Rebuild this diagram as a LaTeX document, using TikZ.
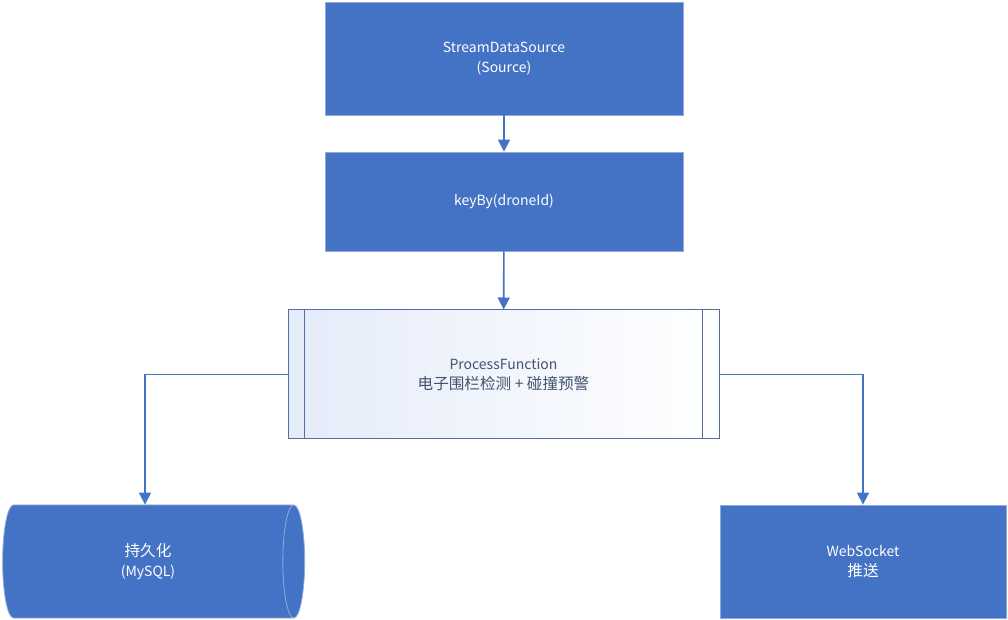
\documentclass[tikz,border=0pt]{standalone}
\usepackage{fontspec}
\setmainfont{Noto Sans CJK SC}
\usetikzlibrary{arrows.meta,shapes.geometric}
\definecolor{officeblue}{RGB}{68,114,196}
\definecolor{edgeblue}{RGB}{143,170,220}
\definecolor{procedge}{RGB}{84,110,160}
\definecolor{proctext}{RGB}{68,84,106}
\definecolor{procfill}{RGB}{228,235,249}
\newcommand\zh[1]{{\fontsize{7.8}{10}\selectfont #1}}
\tikzset{
	block/.style={draw=edgeblue,line width=0.4pt,fill=officeblue,text=white,align=center,inner sep=0pt,font=\fontsize{7}{10}\selectfont},
	flow/.style={draw=officeblue,line width=0.8pt,-{Triangle[width=6pt,length=6pt]}},
}
\begin{document}
\begin{tikzpicture}[x=0.5pt,y=-0.5pt]
			\useasboundingbox (0,0) rectangle (1008,620);
			\node[block,minimum width=179pt,minimum height=56.5pt] (src) at (504,58.5) {StreamDataSource\\(Source)};
			\node[block,minimum width=179pt,minimum height=49.5pt] (key) at (504,201.5) {keyBy(droneId)};
			\node[draw=procedge,line width=0.5pt,left color=procfill,right color=white,text=proctext,align=center,inner sep=0pt,minimum width=215.5pt,minimum height=64.5pt,font=\fontsize{7}{10}\selectfont] (proc) at (503.5,374.5) {ProcessFunction\\\zh{电子围栏检测 + 碰撞预警}};
			\draw[procedge,line width=0.5pt] ([xshift=8.5pt]proc.north west)--([xshift=8.5pt]proc.south west) ([xshift=-8.5pt]proc.north east)--([xshift=-8.5pt]proc.south east);
			\node[block,cylinder,shape aspect=0.6,minimum width=56.5pt,minimum height=151pt] (db) at (148,561.5) {\zh{持久化}\\(MySQL)};
			\node[block,minimum width=143pt,minimum height=56.5pt] (ws) at (863,561.5) {WebSocket\\\zh{推送}};
			\draw[flow] (src)--(key);
			\draw[flow] (key)--(proc);
			\draw[flow] (proc.west)-|([xshift=-1.5pt]db.north);
			\draw[flow] (proc.east)-|(ws.north);
	\end{tikzpicture}
\end{document}
